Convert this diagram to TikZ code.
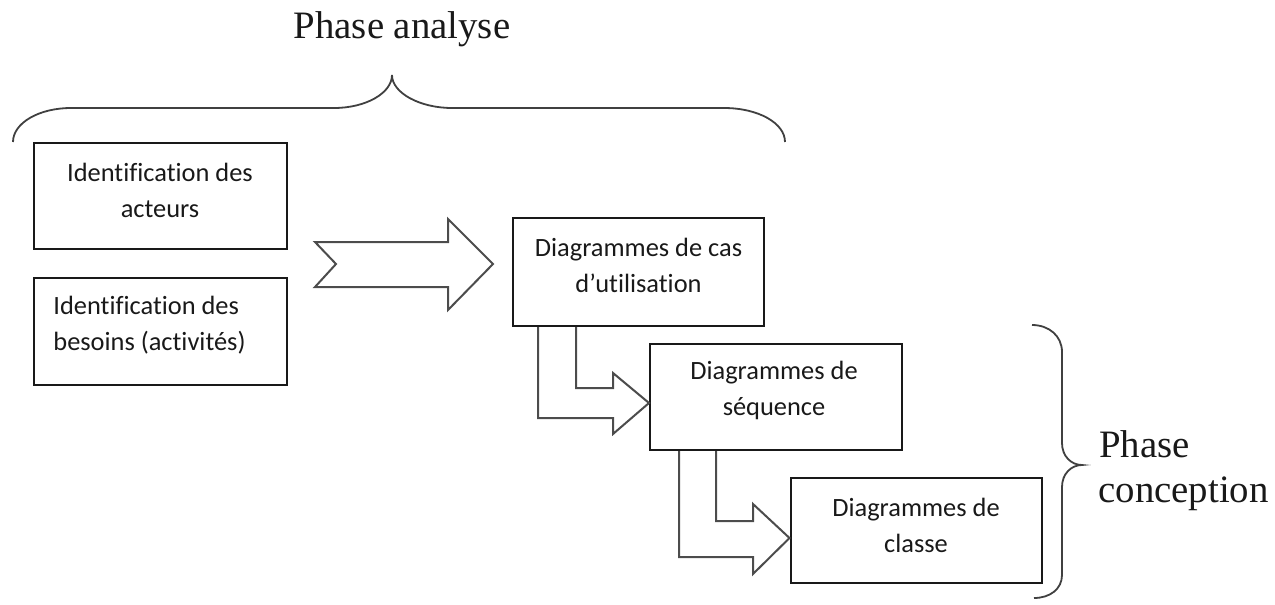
\documentclass[tikz,border=0pt]{standalone}
\usepackage{fontspec}
\setmainfont{Liberation Serif}
\newfontfamily\boxfont[Ligatures=NoCommon]{Carlito}
\begin{document}
\begin{tikzpicture}[x=0.5pt,y=-0.5pt,
  box/.style={draw=black!90,line width=1pt,rectangle,inner sep=0pt},
  boxtext/.style={font=\boxfont\fontsize{13.2pt}{18pt}\selectfont,inner sep=0pt,text=black!90},
  phasetext/.style={font=\fontsize{19.4pt}{22.5pt}\selectfont,inner sep=0pt,text=black!90},
  hollow/.style={draw=black!70,line width=1pt,line join=miter},
  brace/.style={draw=black!75,line width=0.9pt}]
\useasboundingbox (0,0) rectangle (1275,605);

% analysis boxes
\node[box,minimum width=126.5pt,minimum height=53pt] (acteurs) at (160,196) {};
\node[box,minimum width=126.5pt,minimum height=53.5pt] (besoins) at (160,331.5) {};
\node[boxtext,align=center] (tacteurs) at (160,190) {Identification des\\acteurs};
\node[boxtext,align=left,anchor=west] (tbesoins) at (53,325) {Identification des\\besoins (activités)};

% design boxes
\node[box,minimum width=125.5pt,minimum height=54pt] (cas) at (638.5,272) {};
\node[box,minimum width=126pt,minimum height=53pt] (seq) at (776,397) {};
\node[box,minimum width=125.5pt,minimum height=52.5pt] (classe) at (916,530.5) {};
\node[boxtext,align=center] (tcas) at (638.5,265.5) {Diagrammes de cas\\d’utilisation};
\node[boxtext,align=center] (tseq) at (774,390) {Diagrammes de\\séquence};
\node[boxtext,align=center] (tclasse) at (916,525) {Diagrammes de\\classe};

% notched block arrow
\draw[hollow] (315,242) -- (448,242) -- (448,219) -- (493,264) -- (448,310)
  -- (448,287) -- (315,287) -- (336,264) -- cycle;

% bent arrows between the diagram boxes
\draw[hollow] (576,0 |- cas.south) -- (576,388) -- (613,388) -- (613,373)
  -- (seq.west |- 0,403) -- (613,434) -- (613,418) -- (538,418) -- (538,0 |- cas.south);
\draw[hollow] (716,0 |- seq.south) -- (716,521) -- (753,521) -- (753,504)
  -- (classe.west |- 0,538) -- (753,574) -- (753,557) -- (679,557) -- (679,0 |- seq.south);

% braces
\draw[brace] (13,142) .. controls (13,123) and (39,108) .. (71,108) -- (334,108)
  .. controls (366,108) and (392,93) .. (392,75)
  .. controls (392,93) and (420,108) .. (452,108) -- (724,108)
  .. controls (758,108) and (785,123) .. (785,142);
\draw[brace] (1032,325) .. controls (1049,325) and (1062,336) .. (1062,352) -- (1062,443)
  .. controls (1062,456) and (1071,465) .. (1082,465)
  .. controls (1071,465) and (1062,474) .. (1062,487) -- (1062,575)
  .. controls (1062,589) and (1050,598) .. (1034,598);

% phase labels
\node[phasetext,anchor=base] (analyse) at (402,39) {Phase analyse};
\node[phasetext,anchor=base west] (phase) at (1099,457) {Phase};
\node[phasetext,anchor=base west] (conception) at (1098,502) {conception};
\end{tikzpicture}
\end{document}
